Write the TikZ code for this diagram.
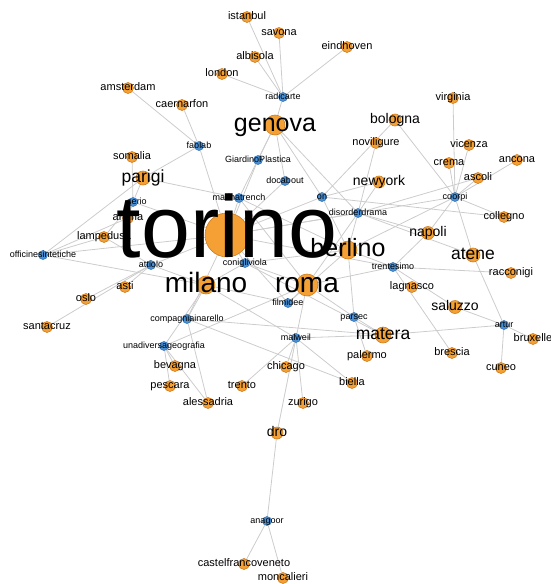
\documentclass[tikz,border=0pt]{standalone}
\usepackage{fontspec}
\setmainfont{Liberation Sans}
\definecolor{cityfill}{RGB}{244,160,52}
\definecolor{cityline}{RGB}{205,125,35}
\definecolor{orgfill}{RGB}{74,144,212}
\definecolor{orgline}{RGB}{45,105,170}
\definecolor{edgegray}{RGB}{204,204,204}
\pgfdeclarelayer{edges}
\pgfsetlayers{edges,main}
\begin{document}
\begin{tikzpicture}[x=1pt,y=-1pt,
  city/.style={circle,fill=cityfill,draw=cityline,line width=0.6pt,inner sep=0pt,minimum size=#1},
  city/.default=11pt,
  org/.style={circle,fill=orgfill,draw=orgline,line width=0.5pt,inner sep=0pt,minimum size=9pt},
  lbl/.style={anchor=base,yshift=-0.26*#1,inner sep=0pt,text=black,font=\fontsize{#1}{#1}\selectfont},
  lbl/.default=11pt,
  olbl/.style={lbl=9pt},
  link/.style={draw=edgegray,line width=0.8pt}]
\useasboundingbox (0,0) rectangle (550,584);

% ---- cities (orange) ----
\node[city] (istanbul) at (247,17) {};
\node[city] (savona) at (279,33) {};
\node[city] (albisola) at (255,57) {};
\node[city] (eindhoven) at (347,47) {};
\node[city] (london) at (222,74) {};
\node[city] (amsterdam) at (128,88) {};
\node[city] (caernarfon) at (182,105) {};
\node[city=20pt] (genova) at (275,125) {};
\node[city=12pt] (bologna) at (395,120) {};
\node[city] (noviligure) at (376,143) {};
\node[city] (virginia) at (453,98) {};
\node[city] (vicenza) at (469,145) {};
\node[city] (crema) at (449,163) {};
\node[city] (ancona) at (517,160) {};
\node[city] (ascoli) at (478,178) {};
\node[city] (collegno) at (504,217) {};
\node[city=12pt] (newyork) at (379,182) {};
\node[city] (somalia) at (132,157) {};
\node[city=14pt] (parigi) at (143,178) {};
\node[city] (andria) at (128,218) {};
\node[city] (lampedusa) at (104,237) {};
\node[city] (asti) at (125,287) {};
\node[city] (oslo) at (86,299) {};
\node[city] (santacruz) at (47,327) {};
\node[city=44pt] (torino) at (227,235) {};
\node[city=18pt] (berlino) at (348,250) {};
\node[city=13pt] (napoli) at (428,233) {};
\node[city=14pt] (atene) at (473,255) {};
\node[city] (racconigi) at (511,273) {};
\node[city=18pt] (milano) at (206,285) {};
\node[city=22pt] (roma) at (307,285) {};
\node[city] (lagnasco) at (412,287) {};
\node[city=13pt] (saluzzo) at (455,307) {};
\node[city=16pt] (matera) at (383,335) {};
\node[city] (brescia) at (452,353) {};
\node[city] (bruxelle) at (533,339) {};
\node[city] (cuneo) at (501,368) {};
\node[city] (palermo) at (367,356) {};
\node[city] (chicago) at (286,367) {};
\node[city] (biella) at (352,383) {};
\node[city] (bevagna) at (175,366) {};
\node[city] (pescara) at (170,386) {};
\node[city] (alessadria) at (208,403) {};
\node[city] (trento) at (242,386) {};
\node[city] (zurigo) at (303,403) {};
\node[city=12pt] (dro) at (277,433) {};
\node[city] (castelfranco) at (244,564) {};
\node[city] (moncalieri) at (283,578) {};

% ---- organisations (blue) ----
\node[org] (radicarte) at (283,97) {};
\node[org] (fablab) at (199,146) {};
\node[org] (giardino) at (258,160) {};
\node[org] (docabout) at (285,181) {};
\node[org] (marinatrench) at (239,198) {};
\node[org] (on) at (322,197) {};
\node[org] (disorder) at (358,213) {};
\node[org] (coorpi) at (455,197) {};
\node[org] (serio) at (133,202) {};
\node[org] (officine) at (43,255) {};
\node[org] (attiolo) at (151,265) {};
\node[org] (conigli) at (245,263) {};
\node[org] (filmidee) at (288,303) {};
\node[org] (compagnia) at (187,319) {};
\node[org] (unadiversa) at (164,346) {};
\node[org] (malweil) at (296,338) {};
\node[org] (parsec) at (354,317) {};
\node[org] (trentesimo) at (393,267) {};
\node[org] (artur) at (504,325) {};
\node[org] (anagoor) at (267,521) {};

% ---- connections ----
\begin{pgfonlayer}{edges}
\foreach \a/\b in {
  radicarte/istanbul, radicarte/savona, radicarte/albisola, radicarte/eindhoven,
  radicarte/london, radicarte/genova,
  fablab/amsterdam, fablab/caernarfon, fablab/parigi, fablab/torino,
  serio/somalia, serio/parigi, serio/torino, serio/lampedusa, serio/andria,
  officine/parigi, officine/andria, officine/lampedusa, officine/torino, officine/milano,
  attiolo/asti, attiolo/oslo, attiolo/santacruz, attiolo/lampedusa, attiolo/torino, attiolo/milano,
  marinatrench/genova, marinatrench/parigi, marinatrench/torino, marinatrench/berlino, marinatrench/roma,
  giardino/genova, giardino/torino,
  docabout/genova, docabout/torino,
  on/genova, on/bologna, on/newyork, on/torino, on/berlino, on/collegno,
  disorder/genova, disorder/newyork, disorder/noviligure, disorder/torino, disorder/berlino,
  disorder/napoli, disorder/roma, disorder/ascoli, disorder/atene,
  coorpi/bologna, coorpi/virginia, coorpi/vicenza, coorpi/crema, coorpi/ascoli, coorpi/ancona,
  coorpi/collegno, coorpi/atene, coorpi/napoli, coorpi/berlino, coorpi/torino,
  trentesimo/berlino, trentesimo/napoli, trentesimo/racconigi, trentesimo/brescia,
  trentesimo/saluzzo, trentesimo/roma, trentesimo/torino,
  artur/atene, artur/saluzzo, artur/matera, artur/bruxelle, artur/cuneo,
  parsec/roma, parsec/matera, parsec/palermo, parsec/berlino,
  filmidee/roma, filmidee/milano, filmidee/torino, filmidee/berlino,
  conigli/torino, conigli/milano, conigli/roma, conigli/berlino, conigli/matera,
  compagnia/milano, compagnia/torino, compagnia/matera, compagnia/biella, compagnia/alessadria,
  unadiversa/bevagna, unadiversa/pescara, unadiversa/alessadria, unadiversa/milano, unadiversa/roma,
  malweil/roma, malweil/milano, malweil/chicago, malweil/trento, malweil/zurigo,
  malweil/dro, malweil/matera, malweil/biella,
  anagoor/dro, anagoor/castelfranco, anagoor/moncalieri}
  \draw[link] (\a) -- (\b);
\end{pgfonlayer}

% ---- city labels ----
\node[lbl] (l-istanbul) at (istanbul) {istanbul};
\node[lbl] (l-savona) at (savona) {savona};
\node[lbl] (l-albisola) at (albisola) {albisola};
\node[lbl] (l-eindhoven) at (eindhoven) {eindhoven};
\node[lbl] (l-london) at (london) {london};
\node[lbl] (l-amsterdam) at (amsterdam) {amsterdam};
\node[lbl] (l-caernarfon) at (caernarfon) {caernarfon};
\node[lbl=25pt] (l-genova) at (genova) {genova};
\node[lbl=14pt] (l-bologna) at (bologna) {bologna};
\node[lbl] (l-noviligure) at (noviligure) {noviligure};
\node[lbl] (l-virginia) at (virginia) {virginia};
\node[lbl] (l-vicenza) at (vicenza) {vicenza};
\node[lbl] (l-crema) at (crema) {crema};
\node[lbl] (l-ancona) at (ancona) {ancona};
\node[lbl] (l-ascoli) at (ascoli) {ascoli};
\node[lbl] (l-collegno) at (collegno) {collegno};
\node[lbl=14pt] (l-newyork) at (newyork) {newyork};
\node[lbl] (l-somalia) at (somalia) {somalia};
\node[lbl=17.5pt] (l-parigi) at (parigi) {parigi};
\node[lbl] (l-andria) at (andria) {andria};
\node[lbl] (l-lampedusa) at (lampedusa) {lampedusa};
\node[lbl] (l-asti) at (asti) {asti};
\node[lbl] (l-oslo) at (oslo) {oslo};
\node[lbl] (l-santacruz) at (santacruz) {santacruz};
\node[lbl=88pt] (l-torino) at (torino) {torino};
\node[lbl=25pt] (l-berlino) at (berlino) {berlino};
\node[lbl=14pt] (l-napoli) at (napoli) {napoli};
\node[lbl=17.5pt] (l-atene) at (atene) {atene};
\node[lbl] (l-racconigi) at (racconigi) {racconigi};
\node[lbl=28pt] (l-milano) at (milano) {milano};
\node[lbl=28pt] (l-roma) at (roma) {roma};
\node[lbl] (l-lagnasco) at (lagnasco) {lagnasco};
\node[lbl=14pt] (l-saluzzo) at (saluzzo) {saluzzo};
\node[lbl=17.5pt] (l-matera) at (matera) {matera};
\node[lbl] (l-brescia) at (brescia) {brescia};
\node[lbl] (l-bruxelle) at (bruxelle) {bruxelle};
\node[lbl] (l-cuneo) at (cuneo) {cuneo};
\node[lbl] (l-palermo) at (palermo) {palermo};
\node[lbl] (l-chicago) at (chicago) {chicago};
\node[lbl] (l-biella) at (biella) {biella};
\node[lbl] (l-bevagna) at (bevagna) {bevagna};
\node[lbl] (l-pescara) at (pescara) {pescara};
\node[lbl] (l-alessadria) at (alessadria) {alessadria};
\node[lbl] (l-trento) at (trento) {trento};
\node[lbl] (l-zurigo) at (zurigo) {zurigo};
\node[lbl=14pt] (l-dro) at (dro) {dro};
\node[lbl] (l-castelfranco) at (castelfranco) {castelfrancoveneto};
\node[lbl] (l-moncalieri) at (moncalieri) {moncalieri};

% ---- organisation labels ----
\node[olbl] (l-radicarte) at (radicarte) {radicarte};
\node[olbl] (l-fablab) at (fablab) {fablab};
\node[olbl] (l-giardino) at (giardino) {GiardinoPlastica};
\node[olbl] (l-docabout) at (docabout) {docabout};
\node[olbl] (l-marinatrench) at (marinatrench) {marinatrench};
\node[olbl] (l-on) at (on) {on};
\node[olbl] (l-disorder) at (disorder) {disorderdrama};
\node[olbl] (l-coorpi) at (coorpi) {coorpi};
\node[olbl] (l-serio) at ([xshift=4pt]serio) {serio};
\node[olbl] (l-officine) at (officine) {officinesintetiche};
\node[olbl] (l-attiolo) at (attiolo) {attiolo};
\node[olbl] (l-conigli) at (conigli) {conigliviola};
\node[olbl] (l-filmidee) at (filmidee) {filmidee};
\node[olbl] (l-compagnia) at (compagnia) {compagniainarello};
\node[olbl] (l-unadiversa) at (unadiversa) {unadiversageografia};
\node[olbl] (l-malweil) at (malweil) {malweil};
\node[olbl] (l-parsec) at (parsec) {parsec};
\node[olbl] (l-trentesimo) at (trentesimo) {trentesimo};
\node[olbl] (l-artur) at (artur) {artur};
\node[olbl] (l-anagoor) at (anagoor) {anagoor};
\end{tikzpicture}
\end{document}
